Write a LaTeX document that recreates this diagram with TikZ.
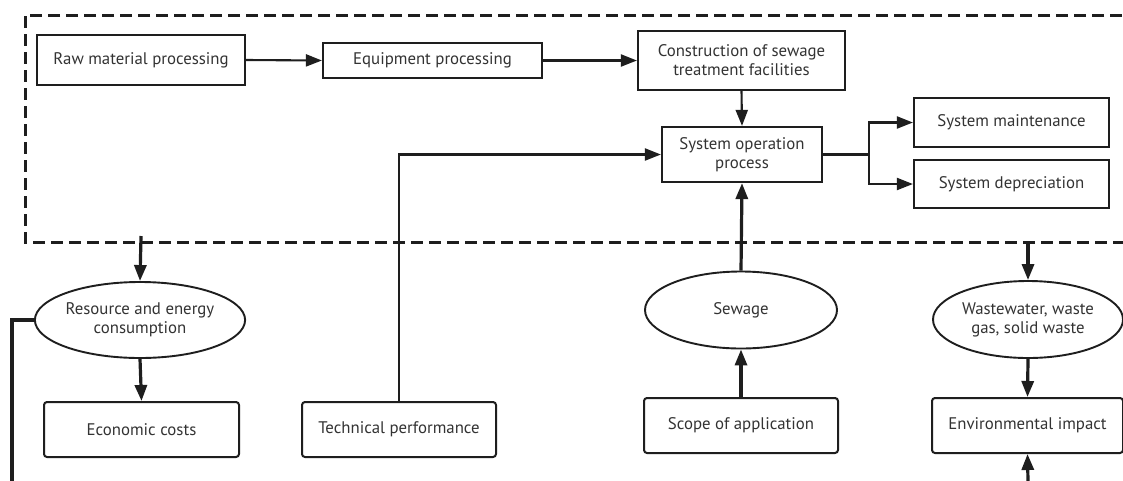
\documentclass[tikz,border=0pt]{standalone}
\usepackage{fontspec}
\setmainfont{PT Sans}
\usetikzlibrary{arrows.meta,shapes.geometric}
\definecolor{ink}{HTML}{1E1E1E}
\definecolor{txt}{HTML}{333333}
\tikzset{
  every node/.style={font=\fontsize{16.8}{19}\selectfont, text=txt},
  topbox/.style={draw=ink, line width=2.2pt, rectangle, inner sep=0pt, align=center},
  lowbox/.style={draw=ink, line width=2.0pt, rectangle, rounded corners=3pt, inner sep=0pt, align=center},
  oval/.style={draw=ink, line width=1.9pt, ellipse, inner sep=0pt, align=center},
  conn/.style={draw=ink, line width=2.1pt, -{Triangle[length=16pt,width=12pt]}},
  thickconn/.style={draw=ink, line width=3.2pt, -{Triangle[length=16pt,width=12pt]}},
  plain/.style={draw=ink, line width=3.2pt},
  frame/.style={draw=ink, line width=3.0pt, dash pattern=on 12pt off 6pt}
}
\begin{document}
\begin{tikzpicture}[x=1pt,y=-1pt]
\useasboundingbox (0,0) rectangle (1123,480);
\fill[white] (0,0) rectangle (1123,480);
\clip (0,0) rectangle (1123,480);
% dashed frame
\draw[frame] (1140,15) -- (25,15) -- (25,242) -- (1140,242);
% top boxes
\node[topbox, minimum width=208pt, minimum height=50pt] (raw) at (141,60) {Raw material processing};
\node[topbox, minimum width=219pt, minimum height=35pt] (equip) at (432.5,60.5) {Equipment processing};
\node[topbox, minimum width=207pt, minimum height=59pt] (constr) at (741.5,60.5) {Construction of sewage\\treatment facilities};
\node[topbox, minimum width=160pt, minimum height=55pt] (sysop) at (742,154.5) {System operation\\process};
\node[topbox, minimum width=195pt, minimum height=49pt] (maint) at (1011.5,122.5) {System maintenance};
\node[topbox, minimum width=195pt, minimum height=48pt] (deprec) at (1011.5,184) {System depreciation};
% lower nodes
\node[oval, minimum width=192pt, minimum height=76pt] (res) at (140,320) {Resource and energy\\consumption};
\node[lowbox, minimum width=195pt, minimum height=55pt] (econ) at (141.5,429.5) {Economic costs};
\node[lowbox, minimum width=194pt, minimum height=55pt] (tech) at (399,429.5) {Technical performance};
\node[oval, minimum width=192pt, minimum height=77pt] (sew) at (741,310) {Sewage};
\node[lowbox, minimum width=194pt, minimum height=55pt] (scope) at (741,425.5) {Scope of application};
\node[oval, minimum width=190pt, minimum height=77pt] (waste) at (1028,319.5) {Wastewater, waste\\gas, solid waste};
\node[lowbox, minimum width=191pt, minimum height=55pt] (env) at (1027.5,425.5) {Environmental impact};
% free ends
\coordinate (resin) at (141,236);
\coordinate (wastein) at (1028,242);
\coordinate (leftend) at (12,482);
\coordinate (envin) at (1028,482);
% connectors in frame
\draw[conn] (raw.east) -- (equip.west);
\draw[conn] (equip.east) -- (constr.west);
\draw[conn] (constr.south) -- (sysop.north);
\draw[conn] (tech.north) |- (sysop.west);
\draw[conn] (sysop.east) -- ++(46,0) |- (maint.west);
\draw[conn] (sysop.east) -- ++(46,0) |- (deprec.west);
% lower connectors
\draw[thickconn] (resin) -- (res.north);
\draw[thickconn] (res.south) -- (econ.north);
\draw[plain] (res.west) -| (leftend);
\draw[thickconn] (sew.north) -- (sysop.south);
\draw[thickconn] (scope.north) -- (sew.south);
\draw[thickconn] (wastein) -- (waste.north);
\draw[thickconn] (waste.south) -- (env.north);
\draw[thickconn] (envin) -- (env.south);
\end{tikzpicture}
\end{document}
